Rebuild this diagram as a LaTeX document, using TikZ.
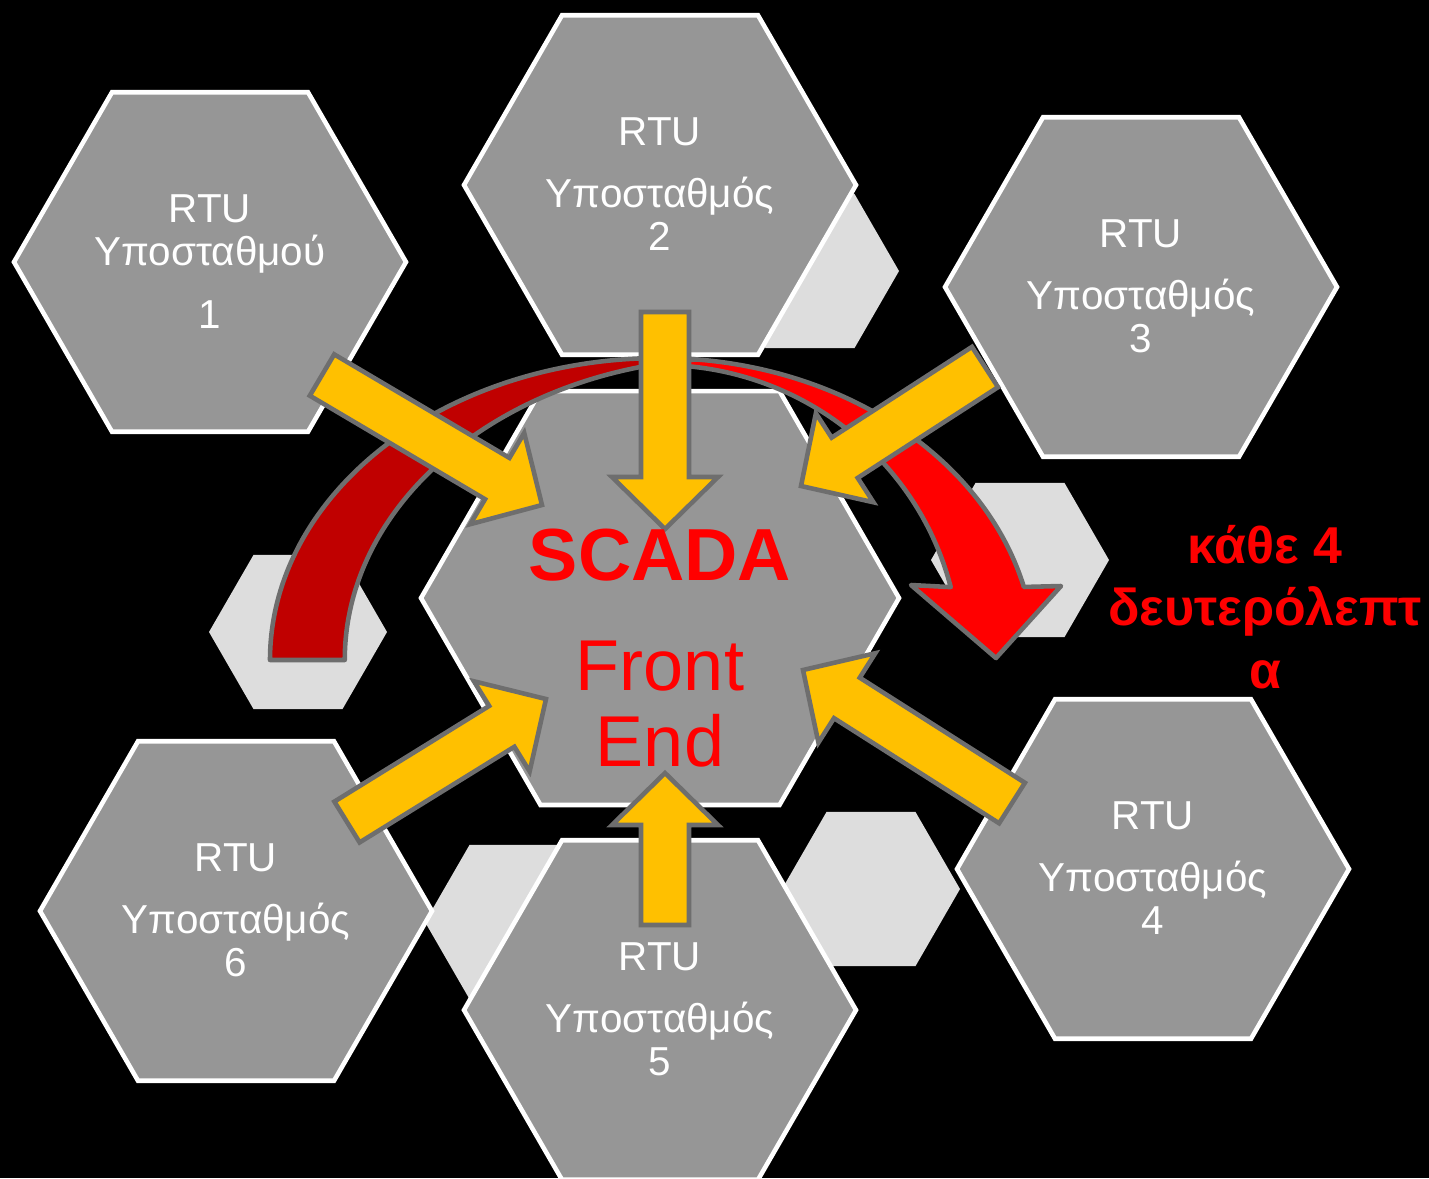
\documentclass[tikz,border=0pt]{standalone}
\usepackage{fontspec}
\setmainfont{Liberation Sans}
\usetikzlibrary{calc}
\definecolor{hexgray}{HTML}{969696}
\definecolor{lightgrayB}{HTML}{DDDDDD}
\definecolor{arrowyellow}{HTML}{FFC000}
\definecolor{edgegray}{HTML}{6E6E6E}
\definecolor{redA}{HTML}{C00000}
\definecolor{redB}{HTML}{FF0000}
\tikzset{
  rtuhex/.style={fill=hexgray, draw=white, line width=2.6pt, line join=miter},
  lighthex/.style={fill=lightgrayB},
  yarr/.style={fill=arrowyellow, draw=edgegray, line width=2.6pt, line join=miter},
  redband/.style={draw=edgegray, line width=2.6pt, line join=round},
  rtu/.style={text=white, font=\fontsize{23}{24}\selectfont, inner sep=0pt, anchor=base},
  redtext/.style={text=redB, inner sep=0pt, anchor=base}
}
\newcommand\hexat[4]{\path[#4,shift={(#1,#2)}] (0:#3) -- (60:#3) -- (120:#3) -- (180:#3) -- (240:#3) -- (300:#3) -- cycle;}
\newcommand\yarrow[2]{%
  \coordinate (#1-n) at ($(#2)!1.04cm!(#1)$);
  \path[yarr] ($(#1)!0.48cm!90:(#2)$) -- ($(#1-n)!0.48cm!90:(#2)$) -- ($(#1-n)!1.06cm!90:(#2)$)
    -- (#2) -- ($(#1-n)!1.06cm!-90:(#2)$) -- ($(#1-n)!0.48cm!-90:(#2)$) -- ($(#1)!0.48cm!-90:(#2)$) -- cycle;}
\newcommand\rtulabel[7]{%
  \node[rtu] (#1a) at (#2,#3) {RTU};
  \node[rtu] (#1b) at (#2,#4) {#6};
  \node[rtu] (#1c) at (#2,#5) {#7};}
\begin{document}
\begin{tikzpicture}[x=0.02cm,y=-0.02cm]
\useasboundingbox (0,0) rectangle (1429,1178);
\fill[black] (0,0) rectangle (1429,1178);
% light background hexagons
\hexat{810}{271}{89}{lighthex}
\hexat{298}{632}{89}{lighthex}
\hexat{1020}{560}{89}{lighthex}
\hexat{871}{889}{89}{lighthex}
\hexat{514}{922}{89}{lighthex}
% RTU hexagons
\hexat{210}{262}{196}{rtuhex}
\hexat{660}{185}{196}{rtuhex}
\hexat{1141}{287}{196}{rtuhex}
\hexat{1153}{869}{196}{rtuhex}
\hexat{660}{1010}{196}{rtuhex}
\hexat{236}{911}{196}{rtuhex}
% center hexagon
\hexat{660}{598}{239}{rtuhex}
% red curved arrow
\path[redband, fill=redB] (646.9,358.2) arc[start angle=268, end angle=346, x radius=375, y radius=302]
  -- (1061,586) -- (996,658) -- (911,585) -- (950.7,587.1)
  arc[start angle=345.7, end angle=268, x radius=300, y radius=295] -- cycle;
\path[redband, fill=redA] (270,660) arc[start angle=180, end angle=275.5, x radius=390, y radius=302]
  arc[start angle=264.5, end angle=180, x radius=390, y radius=302] -- cycle;
% yellow arrows
\coordinate (a1s) at (322,375); \coordinate (a1e) at (542,505);
\coordinate (a2s) at (665,312); \coordinate (a2e) at (665,529);
\coordinate (a3s) at (985,367); \coordinate (a3e) at (801,486);
\coordinate (a4s) at (1012,803); \coordinate (a4e) at (803,670);
\coordinate (a5s) at (665,925); \coordinate (a5e) at (665,773);
\coordinate (a6s) at (347,822); \coordinate (a6e) at (546,699);
\yarrow{a1s}{a1e}
\yarrow{a2s}{a2e}
\yarrow{a3s}{a3e}
\yarrow{a4s}{a4e}
\yarrow{a5s}{a5e}
\yarrow{a6s}{a6e}
% texts
\rtulabel{r1}{210}{222}{265}{328}{Υποσταθμού}{1}
\rtulabel{r2}{660}{145}{207}{250}{Υποσταθμός}{2}
\rtulabel{r3}{1141}{247}{309}{352}{Υποσταθμός}{3}
\rtulabel{r4}{1153}{829}{891}{934}{Υποσταθμός}{4}
\rtulabel{r5}{660}{970}{1032}{1075}{Υποσταθμός}{5}
\rtulabel{r6}{236}{871}{933}{976}{Υποσταθμός}{6}
\node[redtext, font=\fontsize{42}{44}\selectfont\bfseries] (scada) at (660,580) {SCADA};
\node[redtext, font=\fontsize{41}{43}\selectfont] (front) at (660,690) {Front};
\node[redtext, font=\fontsize{41}{43}\selectfont] (end) at (660,766) {End};
\node[redtext, font=\fontsize{29.5}{31}\selectfont\bfseries] (n1) at (1265,563) {κάθε 4};
\node[redtext, font=\fontsize{29.5}{31}\selectfont\bfseries] (n2) at (1265,625) {δευτερόλεπτ};
\node[redtext, font=\fontsize{29.5}{31}\selectfont\bfseries] (n3) at (1265,688) {α};
\end{tikzpicture}
\end{document}
